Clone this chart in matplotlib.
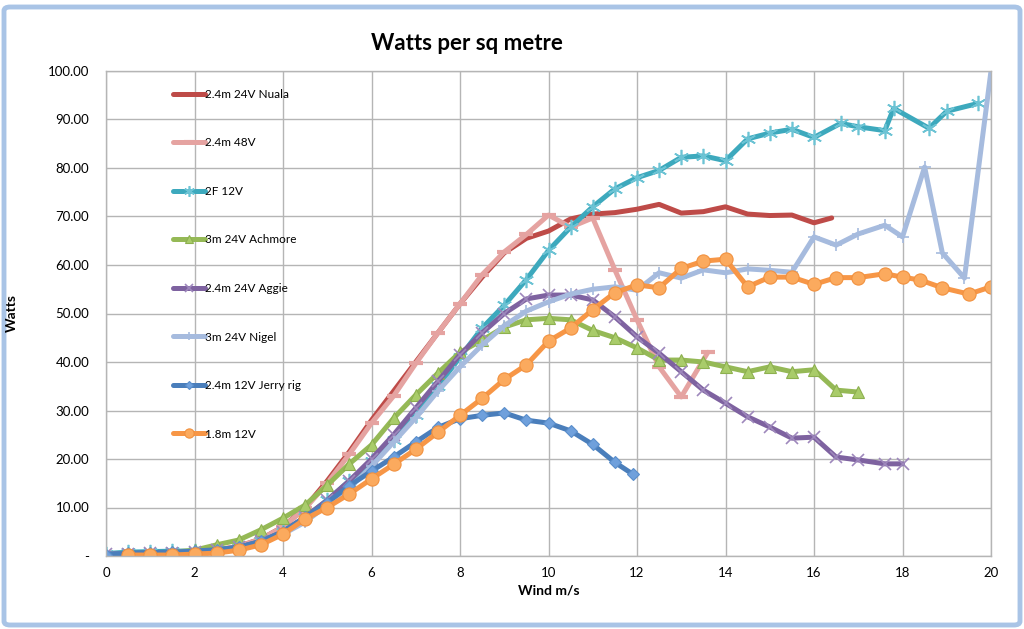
import matplotlib
matplotlib.use("Agg")
import matplotlib.pyplot as plt
from matplotlib.patches import FancyBboxPatch

plt.rcParams['font.family'] = ['Lato', 'DejaVu Sans']

# ---------------- data ----------------
title = "Watts per sq metre"
x_label = "Wind m/s"
y_label = "Watts"

nuala_x = [0, 0.5, 1, 1.5, 2, 2.5, 3, 3.5, 4, 4.5, 5, 5.5, 6, 6.5, 7, 7.5, 8, 8.5, 9, 9.5,
           10, 10.5, 11, 11.5, 12, 12.5, 13, 13.5, 14, 14.5, 15, 15.5, 16, 16.4]
nuala_y = [0.5, 0.5, 0.6, 0.7, 0.9, 1.2, 2.0, 3.5, 6.0, 10.0, 15.5, 21.5, 28.0, 34.0, 40.0, 46.0,
           52.0, 57.5, 62.5, 65.5, 67.0, 69.5, 70.5, 70.8, 71.5, 72.5, 70.7, 71.0, 72.0, 70.5,
           70.2, 70.3, 68.7, 69.7]

v48_x = [0, 0.5, 1, 1.5, 2, 2.5, 3, 3.5, 4, 4.5, 5, 5.5, 6, 6.5, 7, 7.5, 8, 8.5, 9, 9.5,
         10, 10.5, 11, 11.5, 12, 12.5, 13, 13.6]
v48_y = [0.4, 0.5, 0.6, 0.7, 0.9, 1.2, 2.0, 3.5, 6.0, 9.8, 15.0, 21.0, 27.4, 33.0, 39.7, 46.0,
         52.0, 58.0, 62.7, 66.3, 70.3, 67.8, 69.7, 59.0, 48.7, 39.0, 32.8, 42.0]

f2_x = [0, 0.5, 1, 1.5, 2, 2.5, 3, 3.5, 4, 4.5, 5, 5.5, 6, 6.5, 7, 7.5, 8, 8.5, 9, 9.5,
        10, 10.5, 11, 11.5, 12, 12.5, 13, 13.5, 14, 14.5, 15, 15.5, 16, 16.6, 17, 17.6, 17.8,
        18.6, 19, 19.7]
f2_y = [0.5, 0.8, 0.9, 1.0, 1.0, 1.2, 1.8, 3.0, 5.0, 8.0, 11.5, 15.5, 19.5, 24.0, 29.0, 35.0,
        41.0, 47.0, 51.7, 57.0, 63.0, 67.8, 72.0, 75.7, 78.0, 79.5, 82.2, 82.5, 81.5, 86.0,
        87.2, 88.0, 86.3, 89.2, 88.5, 87.7, 92.3, 88.2, 91.7, 93.3]

achmore_x = [0, 0.5, 1, 1.5, 2, 2.5, 3, 3.5, 4, 4.5, 5, 5.5, 6, 6.5, 7, 7.5, 8, 8.5, 9, 9.5,
             10, 10.5, 11, 11.5, 12, 12.5, 13, 13.5, 14, 14.5, 15, 15.5, 16, 16.5, 17]
achmore_y = [0.0, 0.5, 0.6, 0.8, 1.2, 2.3, 3.3, 5.4, 7.8, 10.5, 14.6, 19.0, 22.9, 28.4, 33.2,
             37.7, 42.0, 44.5, 47.2, 48.7, 49.0, 48.7, 46.5, 45.0, 42.9, 40.4, 40.4, 40.0,
             39.0, 38.0, 39.0, 38.0, 38.4, 34.2, 33.8]

aggie_x = [0, 0.5, 1, 1.5, 2, 2.5, 3, 3.5, 4, 4.5, 5, 5.5, 6, 6.5, 7, 7.5, 8, 8.5, 9, 9.5,
           10, 10.5, 11, 11.5, 12, 12.5, 13, 13.5, 14, 14.5, 15, 15.5, 16, 16.5, 17, 17.6, 18]
aggie_y = [0.4, 0.5, 0.6, 0.7, 0.9, 1.2, 1.8, 3.0, 5.0, 8.0, 11.5, 15.5, 20.0, 25.0, 30.5, 36.0,
           41.5, 46.0, 50.0, 53.0, 53.8, 53.8, 52.8, 49.3, 45.2, 41.8, 38.0, 34.2, 31.5, 28.7,
           26.6, 24.3, 24.5, 20.4, 19.8, 19.0, 19.0]

nigel_x = [0, 0.5, 1, 1.5, 2, 2.5, 3, 3.5, 4, 4.5, 5, 5.5, 6, 6.5, 7, 7.5, 8, 8.5, 9, 9.5,
           10, 10.5, 11, 11.5, 12, 12.5, 13, 13.5, 14, 14.5, 15, 15.5, 16, 16.5, 17, 17.6, 18,
           18.5, 18.9, 19.4, 20]
nigel_y = [0.3, 0.4, 0.5, 0.6, 0.8, 1.0, 1.6, 2.8, 4.5, 7.0, 10.5, 14.0, 18.5, 23.5, 28.5, 34.0,
           39.0, 43.5, 47.5, 50.5, 52.4, 54.0, 55.0, 55.5, 54.8, 58.4, 57.3, 59.0, 58.4, 59.2,
           58.9, 58.5, 65.8, 64.1, 66.4, 68.2, 65.8, 80.2, 62.5, 57.3, 100.0]

jerry_x = [0, 0.5, 1, 1.5, 2, 2.5, 3, 3.5, 4, 4.5, 5, 5.5, 6, 6.5, 7, 7.5, 8, 8.5, 9, 9.5,
           10, 10.5, 11, 11.5, 11.9]
jerry_y = [0.3, 0.6, 0.7, 0.8, 1.0, 1.3, 1.8, 3.0, 5.0, 8.0, 11.0, 14.5, 17.5, 20.4, 23.5, 26.5,
           28.3, 29.0, 29.5, 28.0, 27.4, 25.8, 23.0, 19.3, 16.9]

m18_x = [0.5, 1, 1.5, 2, 2.5, 3, 3.5, 4, 4.5, 5, 5.5, 6, 6.5, 7, 7.5, 8, 8.5, 9, 9.5, 10,
         10.5, 11, 11.5, 12, 12.5, 13, 13.5, 14, 14.5, 15, 15.5, 16, 16.5, 17, 17.6, 18, 18.4,
         18.9, 19.5, 20]
m18_y = [0.2, 0.2, 0.2, 0.4, 0.6, 1.2, 2.3, 4.5, 7.6, 10.0, 12.8, 15.9, 18.9, 22.0, 25.5, 29.0,
         32.5, 36.4, 39.4, 44.3, 47.0, 50.8, 54.3, 55.9, 55.3, 59.3, 60.8, 61.2, 55.5, 57.5,
         57.5, 56.0, 57.4, 57.4, 58.2, 57.5, 56.9, 55.3, 54.0, 55.5]

labels = ["2.4m 24V Nuala", "2.4m 48V", "2F 12V", "3m 24V Achmore", "2.4m 24V Aggie",
          "3m 24V Nigel", "2.4m 12V Jerry rig", "1.8m 12V"]

x_ticks = [0, 2, 4, 6, 8, 10, 12, 14, 16, 18, 20]
y_ticks = [0, 10, 20, 30, 40, 50, 60, 70, 80, 90, 100]
y_tick_labels = ["-", "10.00", "20.00", "30.00", "40.00", "50.00", "60.00", "70.00",
                 "80.00", "90.00", "100.00"]

# ---------------- styles ----------------
styles = [
    dict(color="#BE4B48", marker=None),
    dict(color="#E5A3A1", marker="_", ms=10, mew=3, mfc="#E5A3A1", mec="#E5A3A1"),
    dict(color="#3DA9BD", marker=(6, 2, 0), ms=11, mew=1.2, mfc="#6CC3D4", mec="#6CC3D4"),
    dict(color="#95B956", marker="^", ms=8, mew=0.8, mfc="#A9CC6A", mec="#8DB04F"),
    dict(color="#7E62A0", marker="x", ms=8, mew=1.2, mfc="#9E88BC", mec="#9E88BC"),
    dict(color="#A6BBDE", marker="+", ms=8, mew=1.2, mfc="#A6BBDE", mec="#A6BBDE"),
    dict(color="#4A7EBB", marker="D", ms=6.5, mew=0.8, mfc="#6FA0DC", mec="#5A8ECB"),
    dict(color="#F79646", marker="o", ms=9.5, mew=0.8, mfc="#FBAA5E", mec="#F1913F"),
]

series = [(nuala_x, nuala_y), (v48_x, v48_y), (f2_x, f2_y), (achmore_x, achmore_y),
          (aggie_x, aggie_y), (nigel_x, nigel_y), (jerry_x, jerry_y), (m18_x, m18_y)]

# ---------------- figure ----------------
fig = plt.figure(figsize=(10.24, 6.29), dpi=100)
fig.patch.set_facecolor("white")

ax = fig.add_axes([106 / 1024, 73 / 629, 885 / 1024, 485 / 629])

handles = []
for (xs, ys), lab, st in zip(series, labels, styles):
    kw = dict(color=st["color"], lw=3.6, solid_joinstyle="round", solid_capstyle="round",
              label=lab)
    if st.get("marker") is not None:
        kw.update(marker=st["marker"], markersize=st["ms"], markeredgewidth=st["mew"],
                  markerfacecolor=st["mfc"], markeredgecolor=st["mec"])
    h, = ax.plot(xs, ys, **kw)
    handles.append(h)

ax.set_xlim(0, 20)
ax.set_ylim(0, 100)
ax.set_xticks(x_ticks)
ax.set_xticklabels([str(t) for t in x_ticks], fontsize=9.5)
ax.set_yticks(y_ticks)
ax.set_yticklabels(y_tick_labels, fontsize=9.5)
ax.tick_params(length=0, pad=12)
ax.tick_params(axis="x", pad=8)
ax.grid(True, color="#B5B5B5", lw=1.0)
ax.set_axisbelow(True)
for sp in ax.spines.values():
    sp.set_color("#B5B5B5")
    sp.set_linewidth(1.0)

ax.set_xlabel(x_label, fontsize=10, fontweight="bold", labelpad=4)
ax.set_ylabel(y_label, fontsize=10, fontweight="bold", labelpad=22)

fig.text(467 / 1024, 1 - 43 / 629, title, fontsize=16, fontweight="bold",
         ha="center", va="center")

leg = ax.legend(handles=handles, loc="upper left", bbox_to_anchor=(0.07, 0.973),
                frameon=False, fontsize=8.5, handlelength=2.75, handletextpad=0.0,
                labelspacing=3.18, numpoints=1, borderaxespad=0)
for lh in leg.legend_handles:
    lh.set_markersize(lh.get_markersize() * 0.7)

# window frame
frame = FancyBboxPatch((4 / 1024, 4 / 629), 1016 / 1024, 618 / 629,
                       boxstyle="round,pad=0,rounding_size=0.006",
                       transform=fig.transFigure, fill=False,
                       edgecolor="#A9C4E6", linewidth=3.5, zorder=-1)
fig.patches.append(frame)

fig.savefig("out.png", dpi=100)
